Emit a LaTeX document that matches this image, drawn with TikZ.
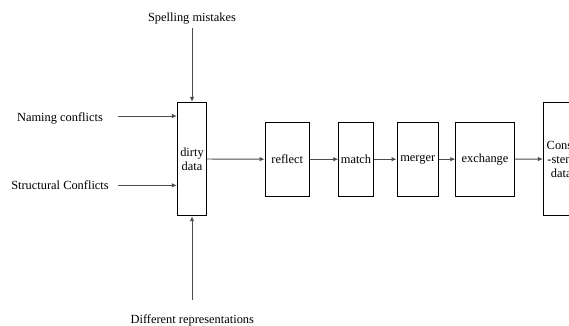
\documentclass[tikz,border=0pt]{standalone}
\usepackage{fontspec}
\setmainfont{Liberation Serif}
\usetikzlibrary{arrows.meta}
\begin{document}
\begin{tikzpicture}[x=1pt,y=-1pt,
  every node/.style={font=\fontsize{12.4}{14}\selectfont, inner sep=0pt},
  block/.style={draw=black, line width=0.9pt, align=center},
  flow/.style={draw=black!70, line width=0.9pt, -{Latex[length=5pt,width=4.5pt]}},
  lbl/.style={text=black}]
\useasboundingbox (0,0) rectangle (569,325);
\begin{scope}
\clip (0,0) rectangle (569,325);

% processing chain
\node[block, minimum width=29.4pt, minimum height=113.4pt] (dirty) at (192,159) {dirty\\data};
\node[block, minimum width=44.3pt, minimum height=73.7pt] (reflect) at (287.2,159.2) {reflect};
\node[block, minimum width=34.6pt, minimum height=73.7pt] (match) at (356,159.2) {match};
\node[block, minimum width=41.3pt, minimum height=73.7pt] (merger) at (417.7,159.2) {merger};
\node[block, minimum width=58.6pt, minimum height=73.7pt] (exchange) at (485,159.2) {exchange};
\node[block, minimum width=35.7pt, minimum height=113.4pt] (clean) at (561.2,159) {Consi\\-stent\\data};

% sources of dirty data
\node[lbl] (spell) at (192,19) {Spelling mistakes};
\node[lbl] (naming) at (60,118.5) {Naming conflicts};
\node[lbl] (struct) at (60,185) {Structural Conflicts};
\node[lbl] (diff) at (192.3,320.5) {Different representations};

\coordinate (spellEnd) at (192,28);
\coordinate (namingEnd) at (118,116);
\coordinate (structEnd) at (118,185.3);
\coordinate (diffEnd) at (192,300);

\draw[flow] (spellEnd) -- (dirty.north);
\draw[flow] (namingEnd) -- (dirty.west |- namingEnd);
\draw[flow] (structEnd) -- (dirty.west |- structEnd);
\draw[flow] (diffEnd) -- (dirty.south);

\draw[flow] (dirty) -- (reflect);
\draw[flow] (reflect) -- (match);
\draw[flow] (match) -- (merger);
\draw[flow] (merger) -- (exchange);
\draw[flow] (exchange) -- (clean);
\end{scope}
\end{tikzpicture}
\end{document}
